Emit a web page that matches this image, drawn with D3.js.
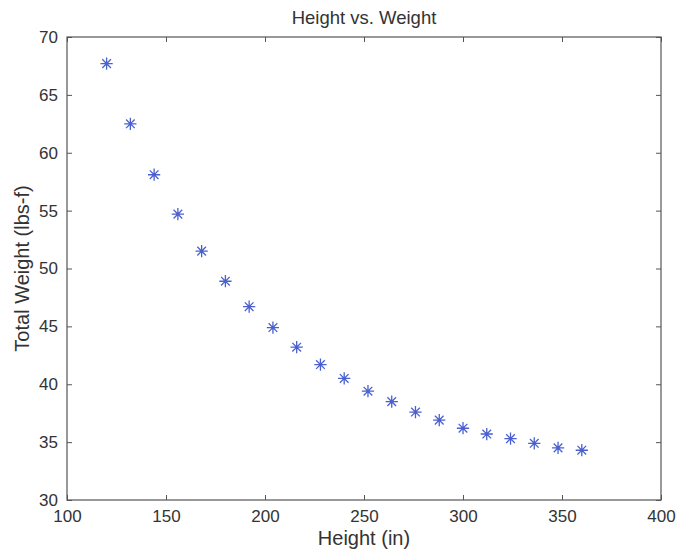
<!DOCTYPE html>
<html>
<head>
<meta charset="utf-8">
<script src="https://cdn.jsdelivr.net/npm/d3@7"></script>
<style>
  body { margin: 0; background: #fff; }
  text { font-family: "Liberation Sans", Arial, sans-serif; fill: #333; }
</style>
</head>
<body>
<svg id="chart"></svg>
<script>
const heights = [120, 132, 144, 156, 168, 180, 192, 204, 216, 228, 240, 252, 264, 276, 288, 300, 312, 324, 336, 348, 360];
const weights = [67.7, 62.5, 58.1, 54.7, 51.5, 48.9, 46.7, 44.9, 43.2, 41.7, 40.5, 39.4, 38.5, 37.6, 36.9, 36.2, 35.7, 35.3, 34.9, 34.5, 34.3];
const xTicks = [100, 150, 200, 250, 300, 350, 400];
const yTicks = [30, 35, 40, 45, 50, 55, 60, 65, 70];

const width = 678, height = 552;
const margin = { top: 37, right: 17, bottom: 52, left: 67 };

const svg = d3.select('#chart')
  .attr('width', width)
  .attr('height', height);

const xScale = d3.scaleLinear()
  .domain([100, 400])
  .range([margin.left, width - margin.right]);

const yScale = d3.scaleLinear()
  .domain([30, 70])
  .range([height - margin.bottom, margin.top]);

const axisColor = '#555';

// box
svg.append('rect')
  .attr('x', margin.left)
  .attr('y', margin.top)
  .attr('width', width - margin.right - margin.left)
  .attr('height', height - margin.bottom - margin.top)
  .attr('fill', 'none')
  .attr('stroke', axisColor)
  .attr('stroke-width', 1.2);

// inward ticks on all four sides
const gBottom = svg.append('g')
  .attr('transform', `translate(0, ${height - margin.bottom})`)
  .call(d3.axisBottom(xScale).tickValues(xTicks).tickSizeInner(-5).tickSizeOuter(0).tickPadding(10));
const gTop = svg.append('g')
  .attr('transform', `translate(0, ${margin.top})`)
  .call(d3.axisTop(xScale).tickValues(xTicks).tickSizeInner(-5).tickSizeOuter(0).tickFormat(''));
const gLeft = svg.append('g')
  .attr('transform', `translate(${margin.left}, 0)`)
  .call(d3.axisLeft(yScale).tickValues(yTicks).tickSizeInner(-5).tickSizeOuter(0).tickPadding(9));
const gRight = svg.append('g')
  .attr('transform', `translate(${width - margin.right}, 0)`)
  .call(d3.axisRight(yScale).tickValues(yTicks).tickSizeInner(-5).tickSizeOuter(0).tickFormat(''));

[gBottom, gTop, gLeft, gRight].forEach(g => {
  g.select('.domain').remove();
  g.selectAll('line').attr('stroke', axisColor);
  g.selectAll('text').style('font-size', '17px').attr('fill', '#333');
});

// matlab style '*' marker: a plus and a cross
const matlabStar = {
  draw(ctx, size) {
    const r = Math.sqrt(size) / 2;
    const d = r * Math.SQRT1_2;
    ctx.moveTo(-r, 0); ctx.lineTo(r, 0);
    ctx.moveTo(0, -r); ctx.lineTo(0, r);
    ctx.moveTo(-d, -d); ctx.lineTo(d, d);
    ctx.moveTo(-d, d); ctx.lineTo(d, -d);
  }
};
const star = d3.symbol().type(matlabStar).size(150);
svg.selectAll('.pt')
  .data(heights.map((h, i) => ({ h, w: weights[i] })))
  .join('path')
    .attr('class', 'pt')
    .attr('d', star)
    .attr('transform', d => `translate(${xScale(d.h)}, ${yScale(d.w)})`)
    .attr('fill', 'none')
    .attr('stroke', '#4a60cf')
    .attr('stroke-width', 1.3);

svg.append('text')
  .attr('x', (margin.left + width - margin.right) / 2)
  .attr('y', 24)
  .attr('text-anchor', 'middle')
  .style('font-size', '18.5px')
  .text('Height vs. Weight');

svg.append('text')
  .attr('x', (margin.left + width - margin.right) / 2)
  .attr('y', 545)
  .attr('text-anchor', 'middle')
  .style('font-size', '20px')
  .text('Height (in)');

svg.append('text')
  .attr('transform', `translate(29, ${(margin.top + height - margin.bottom) / 2}) rotate(-90)`)
  .attr('text-anchor', 'middle')
  .style('font-size', '20px')
  .text('Total Weight (lbs-f)');
</script>
</body>
</html>
